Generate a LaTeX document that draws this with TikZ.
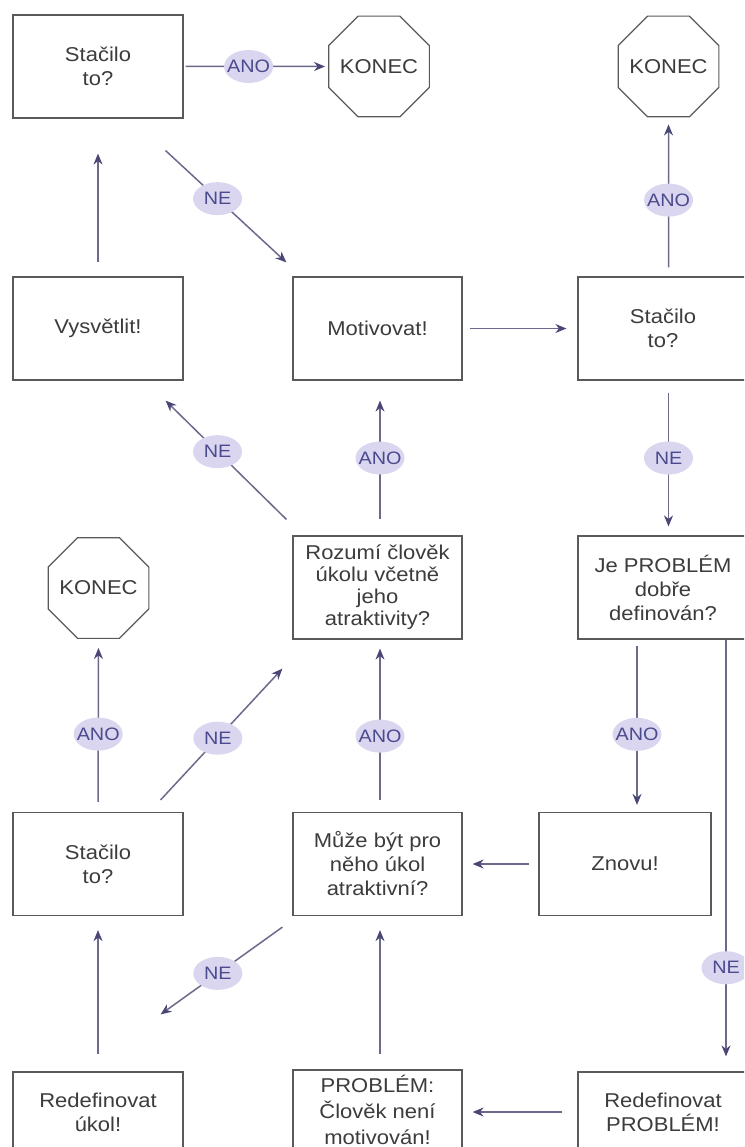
\documentclass[tikz,border=0pt]{standalone}
\usepackage{fontspec}
\setmainfont{Liberation Sans}[FakeStretch=1.1]
\usetikzlibrary{shapes.geometric,arrows.meta,calc}
\definecolor{boxline}{HTML}{5A5A5A}
\definecolor{txt}{HTML}{3C3C3C}
\definecolor{arr}{HTML}{6C6A8C}
\definecolor{arrhead}{HTML}{4A4776}
\definecolor{lblfill}{HTML}{DAD6F0}
\definecolor{lbltxt}{HTML}{4B4A8E}
\begin{document}
\begin{tikzpicture}[x=1pt,y=-1pt,
  box/.style={draw=boxline,line width=1.2pt,minimum width=170pt,minimum height=103pt,inner sep=2pt,align=center,text=txt,font=\fontsize{20}{24}\selectfont},
  lowbox/.style={box,minimum height=80pt},
  stopsign/.style={draw=boxline,line width=1.2pt,regular polygon,regular polygon sides=8,minimum size=109pt,inner sep=-14pt,text=txt,font=\fontsize{20}{24}\selectfont},
  conn/.style={draw=arr,line width=1.5pt,-{Stealth[length=11pt,width=9pt,color=arrhead]}},
  lbl/.style={ellipse,fill=lblfill,text=lbltxt,minimum width=49pt,minimum height=33pt,inner xsep=-7pt,inner ysep=-3pt,font=\fontsize{18}{18}\selectfont}]
\useasboundingbox (0,0) rectangle (744,1147);
\fill[white] (0,0) rectangle (744,1147);
\clip (0,0) rectangle (744,1147);

% row 1
\node[box] (A) at (98,66.5) {Stačilo\\to?};
\node[stopsign] (K1) at (379,66.5) {KONEC};
\node[stopsign] (K2) at (668.5,66.5) {KONEC};
% row 2
\node[box] (V) at (98,328.5) {Vysvětlit!};
\node[box,minimum width=169pt] (M) at (377.5,328.5) {Motivovat!};
\node[box] (S2) at (663,328.5) {Stačilo\\to?};
% row 3
\node[stopsign] (K3) at (98.5,588) {KONEC};
\node[box,minimum width=169pt,font=\fontsize{20}{22}\selectfont] (R) at (377.5,587.5) {Rozumí člověk\\úkolu včetně\\jeho\\atraktivity?};
\node[box] (J) at (663,587.5) {Je PROBLÉM\\dobře\\definován?};
% row 4
\node[box] (S3) at (98,864) {Stačilo\\to?};
\node[box,minimum width=169pt] (Mz) at (377.5,864) {Může být pro\\něho úkol\\atraktivní?};
\node[box,minimum width=172pt] (Z) at (625,864) {Znovu!};
% row 5
\node[lowbox] (RU) at (98,1112) {Redefinovat\\úkol!};
\node[lowbox,minimum width=169pt,font=\fontsize{20}{26}\selectfont] (P) at (377.5,1110) {PROBLÉM:\\Člověk není\\motivován!};
\node[lowbox] (RP) at (663,1112) {Redefinovat\\PROBLÉM!};

% connectors
\draw[conn,shorten <=2pt,shorten >=3pt] (A.east) -- node[lbl,pos=0.45] {ANO} (K1.west);
\draw[conn,shorten <=14pt,shorten >=35pt] (V.north) -- (A.south);
\draw[conn] ($(A.south east)+(-18,32)$) -- node[lbl,pos=0.43] {NE} ($(M.north west)+(-6,-14)$);
\draw[conn,shorten <=7pt,shorten >=11pt] (M.east) -- (S2.west);
\draw[conn,shorten <=9pt,shorten >=7pt] (K2 |- S2.north) -- node[lbl,pos=0.48] {ANO} (K2.south);
\draw[conn,shorten <=12pt,shorten >=9pt] (K2 |- S2.south) -- node[lbl,pos=0.5] {NE} (K2 |- J.north);
\draw[conn] ($(R.north west)+(-6,-16)$) -- node[lbl,pos=0.57] {NE} ($(V.south east)+(-18,20)$);
\draw[conn,shorten <=16pt,shorten >=20pt] ($(R.north)+(2.5,0)$) -- node[lbl,pos=0.5] {ANO} ($(M.south)+(2.5,0)$);
\coordinate (jz) at ($(J.south)+(-26,0)$);
\draw[conn,shorten <=6pt,shorten >=7pt] (jz) -- node[lbl,pos=0.55] {ANO} (jz |- Z.north);
\coordinate (jr) at ($(J.south)+(63,0)$);
\draw[conn,shorten >=15pt] (jr) -- node[lbl,pos=0.76] {NE} (jr |- RP.north);
\draw[conn,shorten <=9pt,shorten >=10pt] (Z.west) -- (Mz.east);
\draw[conn,shorten <=10pt,shorten >=9pt] (S3.north) -- node[lbl,pos=0.45] {ANO} (K3.south);
\draw[conn] ($(S3.north east)+(-23,-12)$) -- node[lbl,pos=0.47] {NE} ($(R.south west)+(-10,29)$);
\draw[conn,shorten <=12pt,shorten >=9pt] ($(Mz.north)+(2.5,0)$) -- node[lbl,pos=0.44] {ANO} ($(R.south)+(2.5,0)$);
\draw[conn] ($(Mz.south west)+(-10,11)$) -- node[lbl,pos=0.53] {NE} ($(RU.north east)+(-23,-57)$);
\draw[conn,shorten <=15pt,shorten >=10pt] (RP.west) -- (RP.west -| P.east);
\draw[conn,shorten <=17pt,shorten >=14pt] (RU.north) -- (S3.south);
\draw[conn,shorten <=15pt,shorten >=14pt] ($(P.north)+(2.5,0)$) -- ($(Mz.south)+(2.5,0)$);
\end{tikzpicture}
\end{document}
